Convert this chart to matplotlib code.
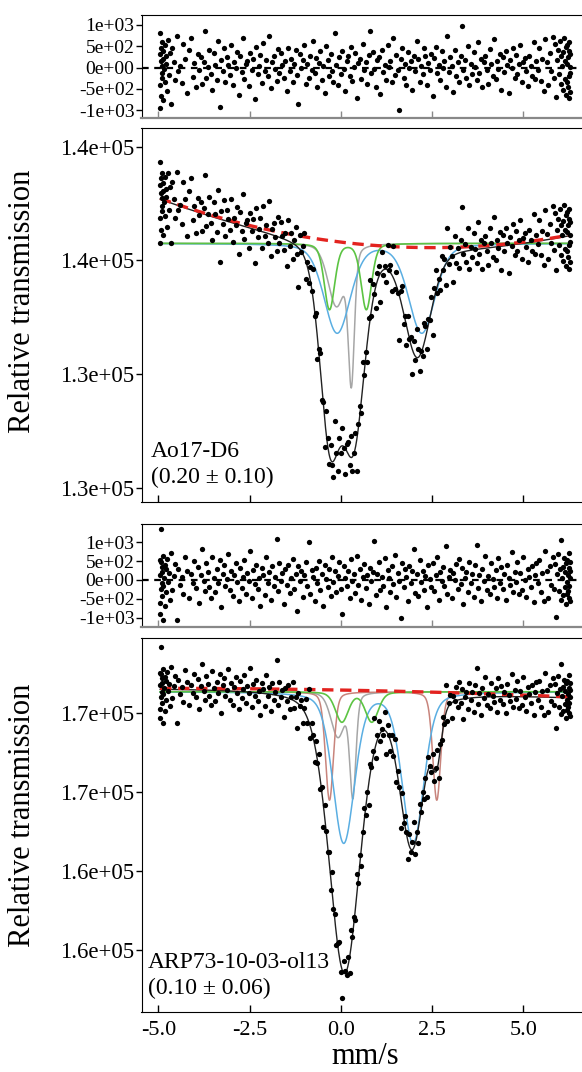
import numpy as np
import matplotlib.pyplot as plt

plt.rcParams['font.family'] = ['Liberation Serif', 'DejaVu Serif']

# channel velocities (mm/s), shared by both spectra
velocity = [
    -4.95, -4.95, -4.94, -4.94, -4.93, -4.93, -4.92, -4.91, -4.91, -4.90,
    -4.89, -4.88, -4.87, -4.86, -4.85, -4.83, -4.82, -4.80, -4.78, -4.76,
    -4.74, -4.71, -4.68, -4.65, -4.62, -4.58, -4.54, -4.50, -4.46, -4.41,
    -4.36, -4.31, -4.26, -4.21, -4.16, -4.11, -4.06, -4.01,
    -3.96, -3.92, -3.88, -3.84, -3.80, -3.76, -3.72, -3.68, -3.64, -3.60,
    -3.56, -3.52, -3.48, -3.44, -3.40, -3.36, -3.32, -3.28, -3.24, -3.20,
    -3.16, -3.12, -3.08, -3.04, -3.00, -2.96, -2.92, -2.88, -2.84, -2.80,
    -2.76, -2.72, -2.68, -2.64, -2.60, -2.56, -2.52, -2.48, -2.44, -2.40,
    -2.36, -2.32, -2.28, -2.24, -2.20, -2.16, -2.12, -2.08, -2.04, -2.00,
    -1.96, -1.92, -1.88, -1.84, -1.80, -1.76, -1.72, -1.68, -1.64, -1.60,
    -1.56, -1.52, -1.48, -1.44, -1.40, -1.36, -1.32, -1.28, -1.24, -1.20,
    -1.16, -1.12, -1.08, -1.04, -1.00, -0.96, -0.92, -0.88, -0.84, -0.80,
    -0.76, -0.72, -0.68, -0.64, -0.60, -0.56, -0.52, -0.48, -0.44, -0.40,
    -0.36, -0.32, -0.28, -0.24, -0.20, -0.16, -0.12, -0.08, -0.04, 0.00,
    0.04, 0.08, 0.12, 0.16, 0.20, 0.24, 0.28, 0.32, 0.36, 0.40,
    0.44, 0.48, 0.52, 0.56, 0.60, 0.64, 0.68, 0.72, 0.76, 0.80,
    0.84, 0.88, 0.92, 0.96, 1.00, 1.04, 1.08, 1.12, 1.16, 1.20,
    1.24, 1.28, 1.32, 1.36, 1.40, 1.44, 1.48, 1.52, 1.56, 1.60,
    1.64, 1.68, 1.72, 1.76, 1.80, 1.84, 1.88, 1.92, 1.96, 2.00,
    2.04, 2.08, 2.12, 2.16, 2.20, 2.24, 2.28, 2.32, 2.36, 2.40,
    2.44, 2.48, 2.52, 2.56, 2.60, 2.64, 2.68, 2.72, 2.76, 2.80,
    2.84, 2.88, 2.92, 2.96, 3.00, 3.04, 3.08, 3.12, 3.16, 3.20,
    3.24, 3.28, 3.32, 3.36, 3.40, 3.44, 3.48, 3.52, 3.56, 3.60,
    3.64, 3.68, 3.72, 3.76, 3.80, 3.84, 3.88, 3.92, 3.96, 4.00,
    4.04, 4.08, 4.12, 4.16, 4.20, 4.24, 4.28, 4.32, 4.36, 4.40,
    4.44, 4.48, 4.52, 4.56, 4.60, 4.64, 4.68, 4.72, 4.76, 4.80,
    4.84, 4.88, 4.92, 4.96, 5.00, 5.04, 5.08, 5.12, 5.16, 5.20,
    5.24, 5.28, 5.32, 5.36, 5.40,
    5.44, 5.48, 5.52, 5.56, 5.60, 5.64, 5.68, 5.72, 5.76, 5.80,
    5.83, 5.86, 5.89, 5.92, 5.95, 5.98, 6.00, 6.02, 6.04, 6.06,
    6.08, 6.10, 6.12, 6.14, 6.15, 6.17, 6.18, 6.19, 6.20, 6.21,
    6.22, 6.23, 6.24, 6.25, 6.26, 6.26, 6.27, 6.27, 6.28, 6.28,
]

# residuals (counts), Ao17-D6
residual_ao17 = [
    820, -960, 310, -420, 150, 460, -680, 40, -250, 590,
    -130, 380, -760, 210, -40, 520, -330, 90, 270, -560,
    640, -180, 350, -870, 470, 120, -290, 730, -90, 30,
    -370, 560, 190, -610, 400, 690, -220, 110,
    -470, 310, -60, 250, -380, 140, 860, -240, 20, 410,
    -150, -520, 330, 70, -300, 620, -940, 180, -90, 450,
    -340, 240, 60, -180, 520, -410, 120, -20, 370, -650,
    280, -110, 700, -270, 90, 160, -440, 330, -60, 210,
    -730, 490, -150, 40, 290, -360, 580, -80, 170, -210,
    730, -480, 120, 260, -30, -320, 440, -130, 350, 60,
    -240, 150, -560, 470, -90, 210, -340, 90, 400, -170,
    -860, 310, -20, 180, 540, -390, 80, -250, 280, -60,
    630, -140, 230, -470, 110, 380, -290, 40, -600, 500,
    170, -210, 320, -80, -350, 820, 60, -420, 240, -150,
    390, -30, -560, 150, 270, -190, 480, -310, 20, 330,
    -710, 100, 210, -260, 560, -50, 120, -380, 290, 870,
    -140, 360, -30, -470, 180, 250, -620, 420, -100, 70,
    -290, 540, 10, 160, -350, 690, -180, 300, -70, -990,
    210, 450, -240, 80, -420, 370, -10, 160, -530, 280,
    -90, 620, 190, -330, 40, -160, 450, 260, -400, 110,
    -50, 310, -680, 220, 480, -140, 60, -290, 380, -20,
    160, -470, 730, -100, 240, 30, -580, 410, -200, 120,
    -330, 280, 980, -60, 170, -250, 500, -410, 80, -150,
    360, 20, -300, 590, -120, 200, -450, 130, 270, -70,
    -380, 440, 90, -210, 660, -280, 150, -40, 320, -520,
    250, -110, 390, 50, -600, 170, -20, 460, -240, 300,
    -160, 80, 530, -350, 120, 220, -80, -430, 280, 40,
    -190, 610, -270, 150, -60,
    450, -310, 210, -550, 670, 120, -420, 330, -90, 720,
    -240, 560, -700, 180, 410, -160, 620, -380, 270, 40,
    -520, 360, 700, -280, 150, -640, 480, 90, -330, 530,
    -460, 250, -200, 600, -720, 380, 10, -570, 310, -140,
]

# residuals (counts), ARP73-10-03-ol13
residual_arp73 = [
    -900, 520, 130, -610, 470, -240, 1350, -80, 350, -430,
    210, -1050, 640, -160, 40, 390, -700, 280, -330, 560,
    -50, 180, -520, 720, -260, 110, 430, -1060, 300, -140,
    80, -380, 610, 240, -470, 160, -90, 500,
    -220, 350, -610, 130, 820, -40, -300, 460, 210, -180,
    -480, 610, 60, -330, 280, -90, 520, -720, 170, 390,
    -150, 30, 700, -270, 240, -430, 120, 460, -60, -560,
    320, -200, 90, 540, -360, 180, -20, 760, -480, 260,
    -110, 410, -250, 50, -700, 330, 140, -390, 600, -70,
    220, -520, 370, -170, 80, 1100, -290, 450, -30, 190,
    -640, 290, -120, 400, -340, 60, 560, -240, 160, -810,
    360, -20, 230, -450, 120, 480, -160, 1020, -380, 270,
    70, -560, 330, -90, 510, -260, 150, -700, 410, 20,
    -180, 300, -420, 620, -60, 240, -320, 110, 470, -230,
    -890, 380, 60, -150, 250, -480, 560, -40, 170, -350,
    640, -120, 290, -540, 90, 420, -210, 130, -640, 330,
    -30, 210, 1040, -400, 150, 480, -260, 80, -160, 590,
    -720, 270, 40, -330, 360, -110, 650, -460, 190, -20,
    -1000, 440, -190, 300, 70, -560, 380, -90, 230, 820,
    -340, 160, -420, 520, -60, 250, -260, 110, -720, 390,
    30, -180, 460, -300, 140, 610, -520, 200, -40, 350,
    -150, 900, -380, 90, 270, -490, 180, -10, 430, -230,
    560, -110, 310, -640, 60, 210, -330, 470, -80, 170,
    -440, 390, 940, -200, 120, -560, 280, -30, 640, -270,
    100, -360, 450, 30, -180, 260, -470, 580, -90, 340,
    -240, 150, -520, 410, 40, -130, 730, -320, 210, -60,
    490, -370, 180, -260, 620, -10, -440, 300, 90, -190,
    370, -580, 140, 460, -80,
    520, -330, 180, -560, 760, 240, -470, 380, -120, 610,
    -250, 430, -980, 150, 690, -300, 280, -520, 1050, 60,
    -410, 340, 570, -190, 220, -640, 450, -60, -380, 520,
    -300, 130, 720, -480, 310, -150, 470, -570, 250, 40,
]

# fitted model: background c0 + c1*v + c2*v^2,
# lines as (centre mm/s, fwhm mm/s, depth counts)
bg_ao17 = [135402, -97.5, 19.5]
flat_ao17 = 135375
total_ao17 = [(-0.30, 0.66, 4150), (0.35, 0.72, 4150), (2.10, 0.85, 2350)]
grey_ao17 = [(-0.12, 0.55, 1350), (0.29, 0.20, 2850)]
blue_ao17 = [(-0.10, 0.85, 1960), (2.22, 0.85, 1960)]
green_ao17 = [(-0.31, 0.34, 1450), (0.70, 0.34, 1450)]

bg_arp73 = [170718, -21.3, -2.1]
flat_arp73 = 170665
total_arp73 = [(0.10, 1.00, 8900), (1.95, 0.78, 4800), (2.63, 0.30, 1600)]
grey_arp73 = [(-0.08, 0.45, 1400), (0.33, 0.20, 3200)]
blue_arp73 = [(0.08, 0.70, 4750), (1.98, 0.70, 4750)]
rose_arp73 = [(-0.31, 0.26, 3430), (2.63, 0.26, 3430)]
green_arp73 = [(0.03, 0.42, 950), (0.85, 0.42, 950)]

res_ticks = [-1000, -500, 0, 500, 1000]
ticks_ao17 = [130000, 132500, 135000, 137500]
ticks_arp73 = [162500, 165000, 167500, 170000]
x_ticks = [-5.0, -2.5, 0.0, 2.5, 5.0]


def absorption(v, lines, eta=0.3):
    out = np.zeros_like(v)
    for c, w, d in lines:
        u = (v - c) / w
        out += d * ((1 - eta) * np.exp(-4 * np.log(2) * u ** 2) + eta / (1 + 4 * u ** 2))
    return out


def background(v, coef):
    return coef[0] + coef[1] * v + coef[2] * v ** 2


W, H = 582, 1072
fig = plt.figure(figsize=(W / 100, H / 100), dpi=100)
XL, XR = 141.5, 584


def make_axes(top, bottom):
    return fig.add_axes([XL / W, 1 - bottom / H, (XR - XL) / W, (bottom - top) / H])


v = np.array(velocity)
vf = np.linspace(v.min(), v.max(), 1200)
xlim = ((XL - 340.8) / 36.5, (XR - 340.8) / 36.5)


def style(ax, res=False):
    ax.set_xlim(*xlim)
    ax.spines['right'].set_visible(False)
    ax.set_xticks(x_ticks)
    ax.tick_params(axis='x', direction='in', length=5, width=1, labelsize=16, pad=7,
                   labelbottom=False)
    ax.tick_params(axis='y', direction='out', length=4, width=1, pad=1)
    if res:
        ax.spines['bottom'].set_color('#888888')
        ax.spines['bottom'].set_linewidth(1.6)
        ax.tick_params(axis='x', color='#888888')


def draw(res_box, spec_box, residual, bg, flat, total, comps, ylim_res, ylim_spec, yticks):
    ax_r = make_axes(*res_box)
    style(ax_r, res=True)
    ax_r.axhline(0, color='black', lw=1.6, ls=(0, (3, 2.5)), zorder=1)
    ax_r.plot(v, residual, 'o', color='black', ms=3.8, mew=0, zorder=3)
    ax_r.set_ylim(*ylim_res)
    ax_r.set_yticks(res_ticks)
    ax_r.set_yticklabels(['%.0e' % t for t in res_ticks], fontsize=14)

    ax_s = make_axes(*spec_box)
    style(ax_s)
    for lines, color, lw in comps:
        ax_s.plot(vf, flat - absorption(vf, lines), color=color, lw=lw, zorder=2)
    ax_s.plot(vf, background(vf, bg) - absorption(vf, total), color='#222222', lw=1.0, zorder=3)
    ax_s.plot(vf, background(vf, bg), color='#e3231f', lw=2.4, dashes=(3.4, 2.0), zorder=4)
    ax_s.plot(v, background(v, bg) - absorption(v, total) + np.array(residual), 'o',
              color='black', ms=3.8, mew=0, zorder=5)
    ax_s.set_ylim(*ylim_spec)
    ax_s.set_yticks(yticks)
    ax_s.set_yticklabels(['%.1e' % t for t in yticks], fontsize=16.5)
    return ax_s


draw((15, 118.3), (127.7, 502.3), residual_ao17, bg_ao17, flat_ao17, total_ao17,
     [(grey_ao17, '#a6a6a6', 1.1), (blue_ao17, '#5aaee2', 1.1), (green_ao17, '#5cc443', 1.2)],
     (-1195, 1235), (129679, 137918), ticks_ao17)
ax_b = draw((524.3, 626.7), (637.7, 1011.7), residual_arp73, bg_arp73, flat_arp73, total_arp73,
            [(grey_arp73, '#a6a6a6', 1.1), (rose_arp73, '#c8847c', 1.1),
             (blue_arp73, '#5aaee2', 1.1), (green_arp73, '#5cc443', 1.2)],
            (-1239, 1477), (160547, 172373), ticks_arp73)
ax_b.tick_params(axis='x', labelbottom=True)
ax_b.set_xticklabels(['%.1f' % t for t in x_ticks])


def ftext(x, y, s, **kw):
    fig.text(x / W, 1 - y / H, s, **kw)


ftext(151, 457.3, 'Ao17-D6', fontsize=17, va='baseline')
ftext(151, 483.3, '(0.20 \u00b1 0.10)', fontsize=17, va='baseline')
ftext(148, 968.3, 'ARP73-10-03-ol13', fontsize=17, va='baseline')
ftext(148, 994, '(0.10 \u00b1 0.06)', fontsize=17, va='baseline')
ftext(23, 301.5, 'Relative transmission', fontsize=22, rotation=90, ha='center', va='center')
ftext(23, 815, 'Relative transmission', fontsize=22, rotation=90, ha='center', va='center')
ftext(365, 1064, 'mm/s', fontsize=22, ha='center', va='baseline')

fig.savefig('out.png', dpi=100)
